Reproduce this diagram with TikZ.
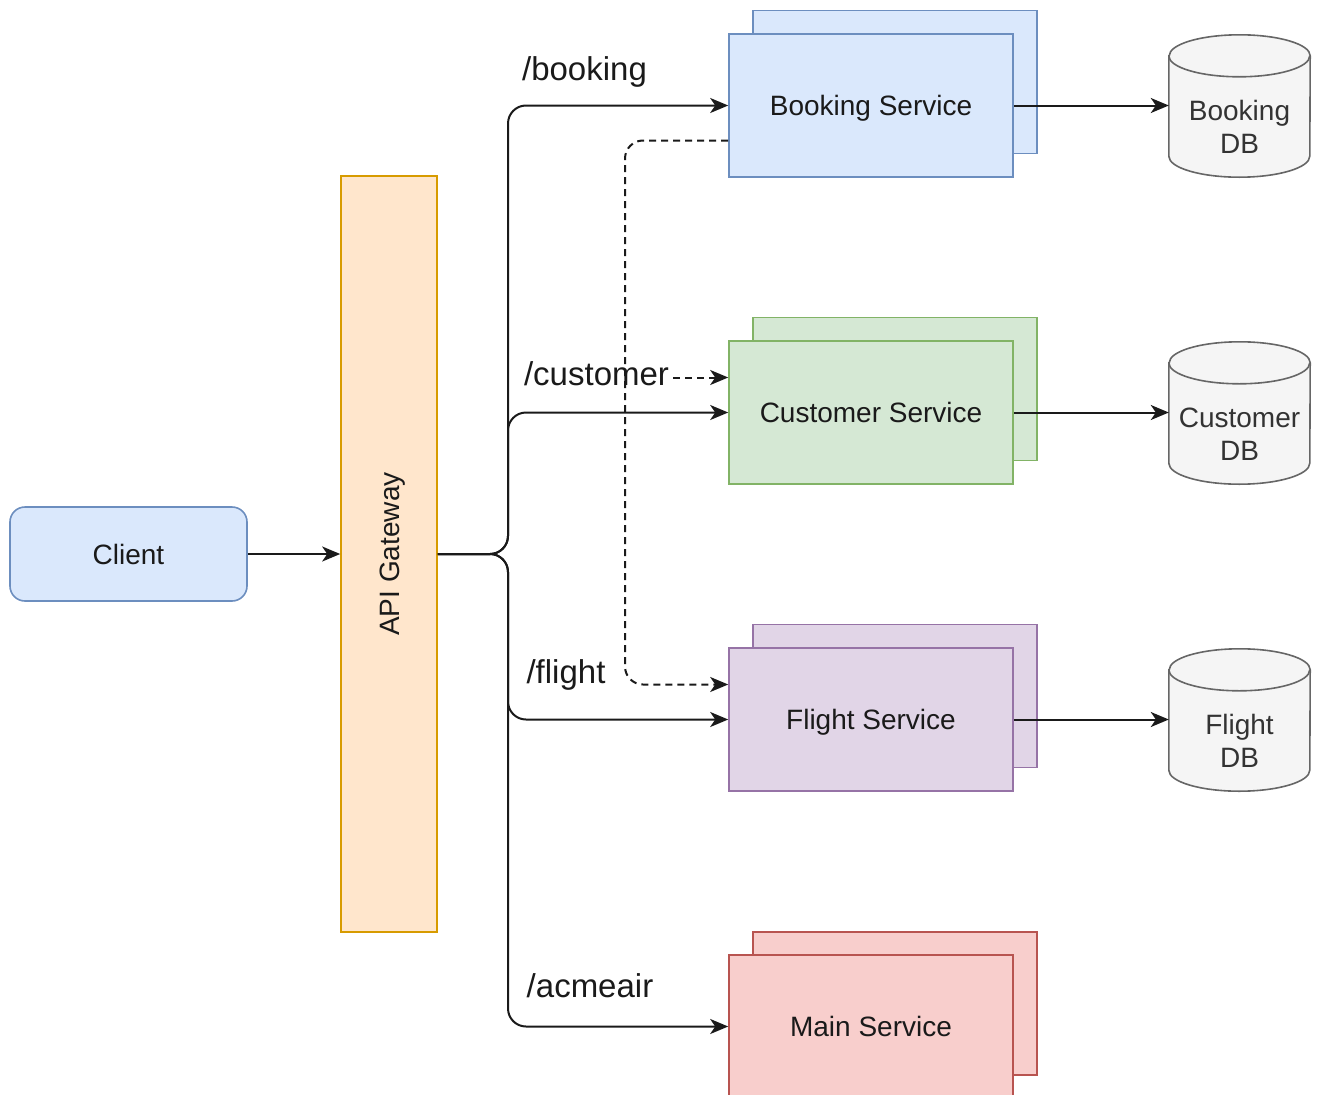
\documentclass[tikz,border=0pt]{standalone}
\usepackage{fontspec}
\setmainfont{Liberation Sans}
\usetikzlibrary{arrows.meta,calc}

\definecolor{bluefill}{HTML}{DAE8FC}\definecolor{blueline}{HTML}{6C8EBF}
\definecolor{greenfill}{HTML}{D5E8D4}\definecolor{greenline}{HTML}{82B366}
\definecolor{purplefill}{HTML}{E1D5E7}\definecolor{purpleline}{HTML}{9673A6}
\definecolor{redfill}{HTML}{F8CECC}\definecolor{redline}{HTML}{B85450}
\definecolor{orangefill}{HTML}{FFE6CC}\definecolor{orangeline}{HTML}{D79B00}
\definecolor{dbfill}{HTML}{F5F5F5}\definecolor{dbline}{HTML}{666666}
\definecolor{dbtext}{HTML}{333333}
\definecolor{ink}{HTML}{1A1A1A}

% database cylinder: name, centre x, top y, label
\newcommand\dbcylinder[4]{%
  \node[dbbody] (#1) at (#2,#3+71) {};
  \draw[dbstyle] ([yshift=-21pt]#1.north west) -- ([yshift=21pt]#1.south west)
    arc[start angle=180,end angle=360,x radius=70.5pt,y radius=21pt]
    -- ([yshift=-21pt]#1.north east)
    arc[start angle=0,end angle=180,x radius=70.5pt,y radius=21pt] -- cycle;
  \draw[dbstyle,fill=none] ([yshift=-21pt]#1.north west)
    arc[start angle=180,end angle=360,x radius=70.5pt,y radius=21pt];
  \node[dblabel] at ([yshift=-21pt]#1.center) {#4};
}

\begin{document}
\begin{tikzpicture}[x=1pt,y=-1pt,
  box/.style={draw,line width=1.6pt,inner sep=0pt,text=ink,
    text height=20pt,text depth=0pt,
    font=\fontsize{28}{33}\selectfont},
  svc/.style={box,minimum width=284pt,minimum height=143pt},
  dbbody/.style={minimum width=141pt,minimum height=142pt,inner sep=0pt},
  dbstyle/.style={draw=dbline,fill=dbfill,line width=1.6pt},
  dblabel/.style={align=center,text=dbtext,font=\fontsize{28}{33}\selectfont},
  flow/.style={line width=2pt,draw=ink,rounded corners=18pt,
    -{Stealth[length=18pt,width=15pt,inset=5pt]}},
  dashflow/.style={flow,dash pattern=on 7pt off 5pt},
  route/.style={inner sep=1pt,text=ink,font=\fontsize{33}{38}\selectfont},
]
\useasboundingbox (0,0) rectangle (1318,1095);

% client and gateway
\node[box,draw=blueline,fill=bluefill,rounded corners=15pt,
  minimum width=237pt,minimum height=94pt] (client) at (128.5,554) {Client};
\node[box,draw=orangeline,fill=orangefill,
  minimum width=96pt,minimum height=756pt] (gw) at (389,554) {};
\node[rotate=90,text=ink,text height=20pt,text depth=0pt,inner sep=0pt,
  font=\fontsize{28}{33}\selectfont] at (gw.center) {API Gateway};

% service stacks (back copy, then front)
\node[svc,draw=blueline,fill=bluefill] (bkback) at (895,82) {};
\node[svc,draw=blueline,fill=bluefill] (bk) at (871,105.5) {Booking Service};
\node[svc,draw=greenline,fill=greenfill] (csback) at (895,389) {};
\node[svc,draw=greenline,fill=greenfill] (cs) at (871,412.5) {Customer Service};
\node[svc,draw=purpleline,fill=purplefill] (flback) at (895,696) {};
\node[svc,draw=purpleline,fill=purplefill] (fl) at (871,719.5) {Flight Service};
\node[svc,draw=redline,fill=redfill] (mnback) at (895,1003.5) {};
\node[svc,draw=redline,fill=redfill] (mn) at (871,1026.5) {Main Service};

% databases
\dbcylinder{bkdb}{1239.5}{35}{Booking\\DB}
\dbcylinder{csdb}{1239.5}{342}{Customer\\DB}
\dbcylinder{fldb}{1239.5}{649}{Flight\\DB}

% client to gateway
\draw[flow] (client) -- (gw);

% gateway routes
\coordinate (trunk) at (508,554);
\draw[flow] (gw.east |- trunk) -- (trunk) |- (bk.west);
\draw[flow] (gw.east |- trunk) -- (trunk) |- (cs.west);
\draw[flow] (gw.east |- trunk) -- (trunk) |- (fl.west);
\draw[flow] (gw.east |- trunk) -- (trunk) |- (mn.west);

% services to their databases
\draw[flow] (bk.east) -- (bk.east -| bkdb.west);
\draw[flow] (cs.east) -- (cs.east -| csdb.west);
\draw[flow] (fl.east) -- (fl.east -| fldb.west);

% booking service calls to customer and flight
\coordinate (bend) at (625,0);
\draw[dashflow] ([yshift=35pt]bend |- cs.west) -- ([yshift=35pt]cs.west);

% route labels
\node[route] (lbk) at (584.5,72) {/booking};
\node[route,fill=white] (lcs) at (596.5,374) {/customer};
\node[route] (lfl) at (566,675) {/flight};
\node[route] (lmn) at (590,986) {/acmeair};

\draw[dashflow] ([yshift=-35pt]bk.west) -| ([yshift=35pt]bend |- fl.west)
  -- ([yshift=35pt]fl.west);
\end{tikzpicture}
\end{document}
